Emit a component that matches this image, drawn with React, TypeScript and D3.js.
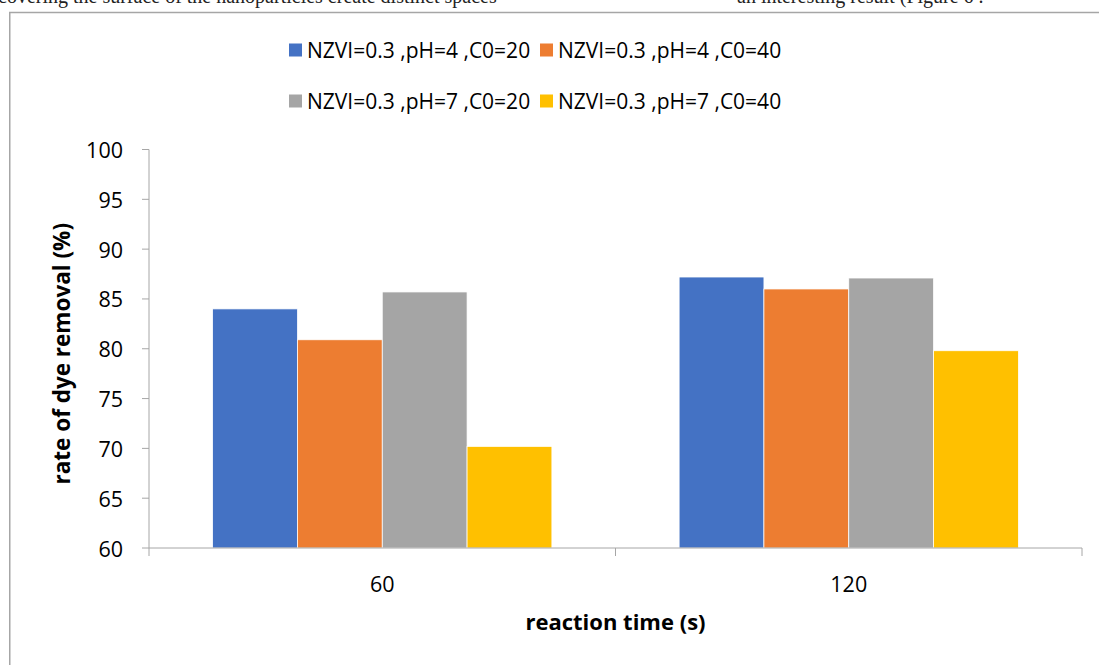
import React from "react";
import * as d3 from "d3";

const categories = ["60", "120"];
const seriesNames = [
  "NZVI=0.3 ,pH=4 ,C0=20",
  "NZVI=0.3 ,pH=4 ,C0=40",
  "NZVI=0.3 ,pH=7 ,C0=20",
  "NZVI=0.3 ,pH=7 ,C0=40",
];
const seriesColors = ["#4472C4", "#ED7D31", "#A5A5A5", "#FFC000"];
const values: number[][] = [
  [84.0, 87.2],
  [80.9, 86.0],
  [85.7, 87.1],
  [70.2, 79.8],
];
const yTicks = [60, 65, 70, 75, 80, 85, 90, 95, 100];
const yTitle = "rate of dye removal (%)";
const xTitle = "reaction time (s)";
const topTextLeft = "covering the surface of the nanoparticles create distinct spaces";
const topTextRight = "an interesting result (Figure 6 .";

const FONT = "'Open Sans', 'Noto Sans', sans-serif";

export default function App() {
  const W = 1099;
  const H = 665;
  const left = 149;
  const right = 1082;
  const top = 149.5;
  const bottom = 548;

  const x = d3.scaleBand<string>().domain(categories).range([left, right]).paddingInner(0).paddingOuter(0);
  const xs = d3
    .scaleBand<number>()
    .domain(seriesNames.map((_, i) => i))
    .range([0, x.bandwidth()])
    .paddingInner(0)
    .paddingOuter(0.75);
  const y = d3.scaleLinear().domain([60, 100]).range([bottom, top]);

  const axisColor = "#a6a6a6";
  const xTickPositions = [left, ...categories.map((c) => (x(c) as number) + x.bandwidth())];

  const legendItems = seriesNames.map((name, i) => ({
    name,
    color: seriesColors[i],
    lx: i % 2 === 0 ? 289 : 540,
    ly: i < 2 ? 50 : 101,
  }));

  return (
    <svg
      width={W}
      height={H}
      style={{ position: "absolute", left: 0, top: 0, background: "#fff" }}
    >
      <rect x={0} y={0} width={W} height={H} fill="#fff" />
      {/* cut-off text of the page above */}
      <text x={-2} y={3} fontFamily="'Liberation Serif', serif" fontSize={20} fill="#222">
        {topTextLeft}
      </text>
      <text x={737} y={3} fontFamily="'Liberation Serif', serif" fontSize={20} fill="#222">
        {topTextRight}
      </text>
      {/* frame */}
      <rect x={9.75} y={12.5} width={1200} height={800} fill="none" stroke="#a6a6a6" strokeWidth={1.5} />

      {/* bars */}
      {values.map((vals, si) =>
        vals.map((v, ci) => {
          const bx = (x(categories[ci]) as number) + (xs(si) as number);
          return (
            <rect
              key={`${si}-${ci}`}
              x={bx}
              y={y(v)}
              width={xs.bandwidth()}
              height={bottom - y(v)}
              fill={seriesColors[si]}
              stroke="#ffffff"
              strokeWidth={0.75}
            />
          );
        })
      )}

      {/* y axis */}
      <line x1={left} x2={left} y1={top} y2={bottom} stroke={axisColor} strokeWidth={1} />
      {yTicks.map((t) => (
        <g key={t}>
          <line x1={left - 7} x2={left} y1={y(t)} y2={y(t)} stroke={axisColor} strokeWidth={1} />
          <text
            x={123}
            y={y(t)}
            textAnchor="end"
            dominantBaseline="central"
            fontFamily={FONT}
            fontSize={21.5}
            fill="#000"
          >
            {t}
          </text>
        </g>
      ))}

      {/* x axis */}
      <line x1={left} x2={right} y1={bottom} y2={bottom} stroke={axisColor} strokeWidth={1} />
      {xTickPositions.map((px, i) => (
        <line key={i} x1={px} x2={px} y1={bottom} y2={bottom + 8} stroke={axisColor} strokeWidth={1} />
      ))}
      {categories.map((c) => (
        <text
          key={c}
          x={(x(c) as number) + x.bandwidth() / 2}
          y={592}
          textAnchor="middle"
          fontFamily={FONT}
          fontSize={21.5}
          fill="#000"
        >
          {c}
        </text>
      ))}

      {/* axis titles */}
      <text
        x={(left + right) / 2}
        y={630}
        textAnchor="middle"
        fontFamily={FONT}
        fontWeight="bold"
        fontSize={22}
        fill="#000"
      >
        {xTitle}
      </text>
      <text
        transform={`translate(70, ${(top + bottom) / 2 + 5}) rotate(-90)`}
        textAnchor="middle"
        fontFamily={FONT}
        fontWeight="bold"
        fontSize={22.5}
        fill="#000"
      >
        {yTitle}
      </text>

      {/* legend */}
      {legendItems.map((it) => (
        <g key={it.name}>
          <rect x={it.lx} y={it.ly - 6.5} width={13} height={13} fill={it.color} />
          <text
            x={it.lx + 18}
            y={it.ly}
            dominantBaseline="central"
            fontFamily={FONT}
            fontSize={21}
            fill="#000"
          >
            {it.name}
          </text>
        </g>
      ))}
    </svg>
  );
}
